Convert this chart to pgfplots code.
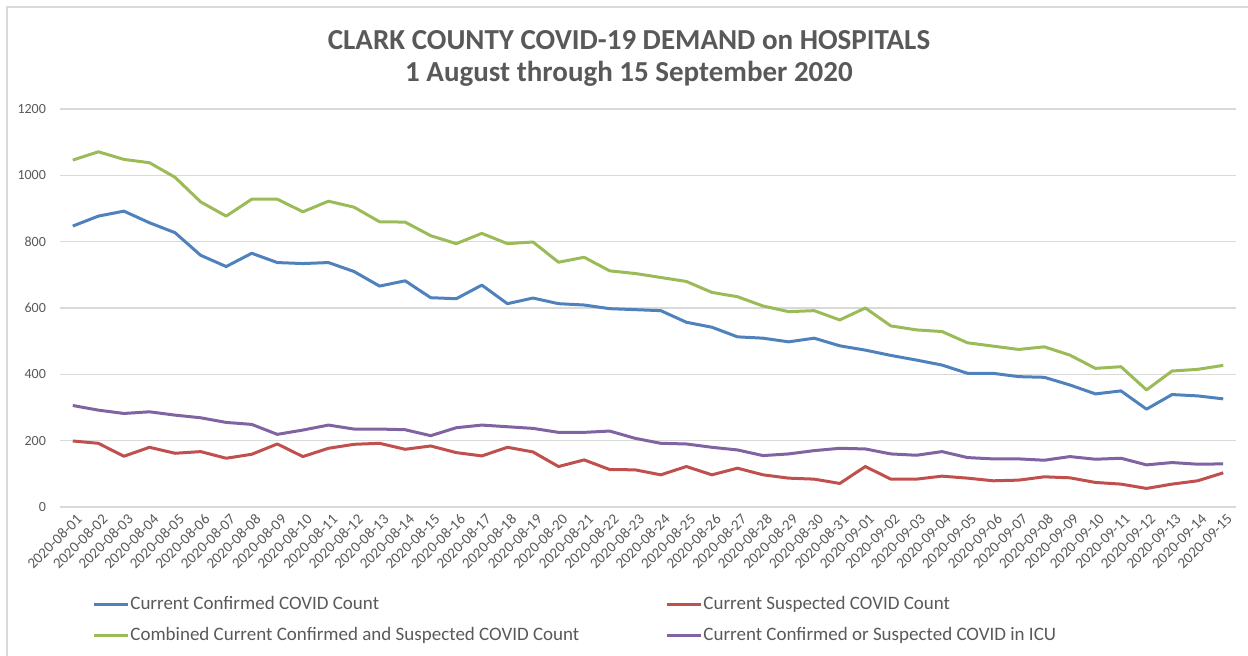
\documentclass[border=0pt]{standalone}
\usepackage{pgfplots}
\pgfplotsset{compat=1.18}
\usepackage{fontspec}
\setmainfont{Carlito}

\definecolor{confblue}{HTML}{4F81BD}
\definecolor{suspred}{HTML}{C0504D}
\definecolor{combgreen}{HTML}{9BBB59}
\definecolor{icupurple}{HTML}{8064A2}
\definecolor{txtgrey}{HTML}{595959}
\definecolor{gridgrey}{HTML}{D9D9D9}

\begin{document}
\begin{tikzpicture}[x=1pt,y=1pt]
\useasboundingbox (0,0) rectangle (624,-328);
% chart frame
\draw[gridgrey, line width=0.75pt] (3.5,-328) -- (3.5,-3.5) -- (624,-3.5);
% title
\node[anchor=base, text=txtgrey, font=\bfseries\fontsize{14.5}{17}\selectfont] at (314.5,-25) {CLARK COUNTY COVID-19 DEMAND on HOSPITALS};
\node[anchor=base, text=txtgrey, font=\bfseries\fontsize{14.5}{17}\selectfont] at (314.5,-41) {1 August through 15 September 2020};

\begin{axis}[
    at={(30pt,-253.5pt)}, anchor=south west,
    width=588pt, height=199pt, scale only axis,
    xmin=-0.5, xmax=45.5, ymin=0, ymax=1200,
    ytick={0,200,...,1200},
    xtick={0,...,45},
    xticklabels={2020-08-01,2020-08-02,2020-08-03,2020-08-04,2020-08-05,2020-08-06,2020-08-07,2020-08-08,2020-08-09,2020-08-10,2020-08-11,2020-08-12,2020-08-13,2020-08-14,2020-08-15,2020-08-16,2020-08-17,2020-08-18,2020-08-19,2020-08-20,2020-08-21,2020-08-22,2020-08-23,2020-08-24,2020-08-25,2020-08-26,2020-08-27,2020-08-28,2020-08-29,2020-08-30,2020-08-31,2020-09-01,2020-09-02,2020-09-03,2020-09-04,2020-09-05,2020-09-06,2020-09-07,2020-09-08,2020-09-09,2020-09-10,2020-09-11,2020-09-12,2020-09-13,2020-09-14,2020-09-15},
    axis line style={draw=none},
    major tick length=0pt,
    ymajorgrids, grid style={gridgrey, line width=0.75pt},
    /pgf/number format/assume math mode=true,
    /pgf/number format/1000 sep={},
    tick label style={text=txtgrey, font=\fontsize{7}{8}\selectfont},
    yticklabel style={xshift=-3.5pt},
    xticklabel style={rotate=45, anchor=north east, inner sep=1pt, yshift=-2pt, font=\fontsize{7.5}{8}\selectfont},
    every axis plot/.append style={line width=1.5pt, line join=round, mark=none},
    legend columns=2,
    legend cell align=left,
    legend image code/.code={\draw[#1, line width=1.5pt] (0pt,0pt) -- (17pt,0pt);},
    legend style={at={(0.0272,-0.2225)}, anchor=north west, draw=none, fill=none,
        inner sep=0pt, text=txtgrey, font=\fontsize{9.5}{11}\selectfont,
        row sep=6.5pt,
        nodes={inner sep=0pt, text height=7pt, text depth=2pt},
        /tikz/column 1/.style={column sep=0.5pt},
        /tikz/column 2/.style={column sep=43pt},
        /tikz/column 3/.style={column sep=0.5pt}},
]
\addplot[confblue] coordinates {
(0,847) (1,877) (2,892) (3,857) (4,827) (5,759) (6,725) (7,765) (8,737) (9,734)
(10,737) (11,710) (12,666) (13,682) (14,631) (15,628) (16,669) (17,613) (18,630) (19,613)
(20,609) (21,598) (22,595) (23,592) (24,557) (25,542) (26,513) (27,509) (28,498) (29,509)
(30,486) (31,473) (32,457) (33,443) (34,428) (35,403) (36,403) (37,393) (38,391) (39,368)
(40,341) (41,350) (42,295) (43,339) (44,335) (45,326)};
\addlegendentry{Current Confirmed COVID Count}
\addplot[suspred] coordinates {
(0,199) (1,192) (2,153) (3,180) (4,162) (5,167) (6,147) (7,159) (8,190) (9,152)
(10,177) (11,189) (12,192) (13,174) (14,184) (15,164) (16,154) (17,180) (18,166) (19,122)
(20,142) (21,113) (22,112) (23,97) (24,122) (25,97) (26,117) (27,97) (28,87) (29,84)
(30,71) (31,122) (32,84) (33,84) (34,93) (35,87) (36,79) (37,81) (38,91) (39,88)
(40,74) (41,69) (42,56) (43,69) (44,79) (45,103)};
\addlegendentry{Current Suspected COVID Count}
\addplot[combgreen] coordinates {
(0,1046) (1,1071) (2,1048) (3,1038) (4,994) (5,920) (6,877) (7,928) (8,928) (9,890)
(10,922) (11,904) (12,860) (13,859) (14,818) (15,794) (16,825) (17,794) (18,799) (19,738)
(20,753) (21,712) (22,704) (23,692) (24,680) (25,647) (26,634) (27,606) (28,589) (29,592)
(30,564) (31,600) (32,546) (33,534) (34,529) (35,495) (36,485) (37,475) (38,483) (39,458)
(40,418) (41,423) (42,353) (43,410) (44,415) (45,427)};
\addlegendentry{Combined Current Confirmed and Suspected COVID Count}
\addplot[icupurple] coordinates {
(0,306) (1,292) (2,282) (3,287) (4,277) (5,269) (6,255) (7,249) (8,219) (9,232)
(10,247) (11,235) (12,235) (13,233) (14,215) (15,239) (16,247) (17,242) (18,237) (19,225)
(20,225) (21,229) (22,207) (23,192) (24,190) (25,180) (26,172) (27,155) (28,160) (29,170)
(30,177) (31,175) (32,160) (33,156) (34,167) (35,149) (36,145) (37,145) (38,141) (39,152)
(40,144) (41,147) (42,127) (43,134) (44,129) (45,130)};
\addlegendentry{Current Confirmed or Suspected COVID in ICU}
\end{axis}
\end{tikzpicture}
\end{document}
